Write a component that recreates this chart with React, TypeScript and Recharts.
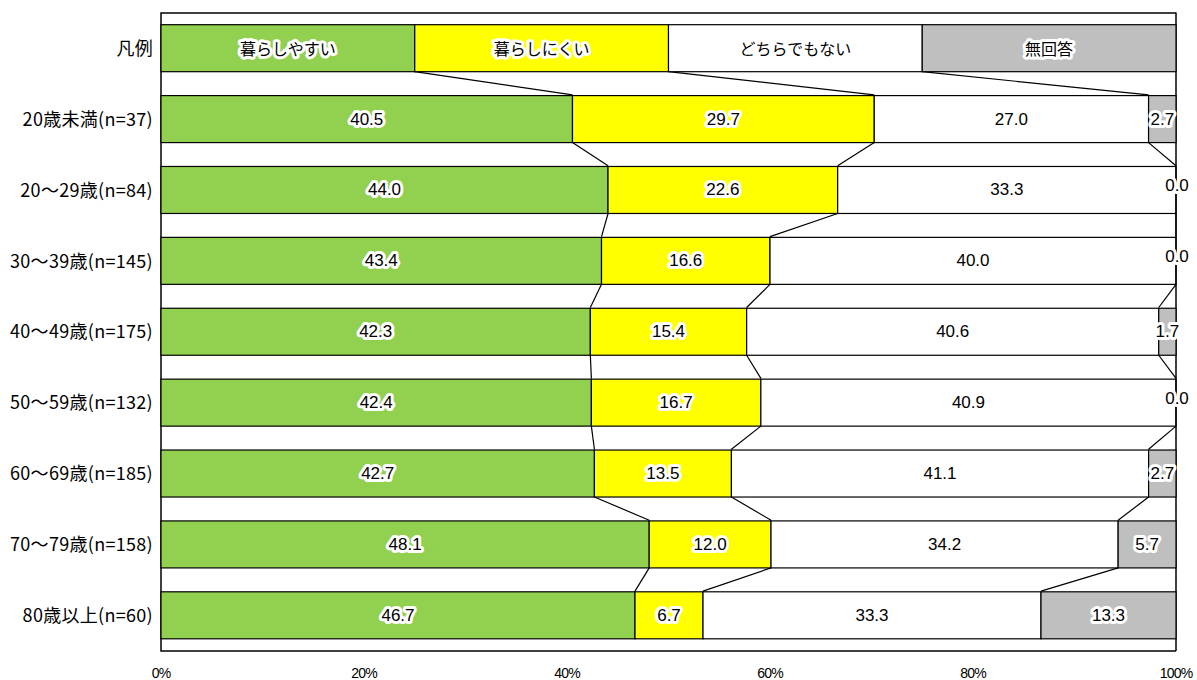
import { BarChart, Bar, XAxis, YAxis, ReferenceArea } from "recharts";

const CATEGORIES = [
  "凡例",
  "20歳未満(n=37)",
  "20～29歳(n=84)",
  "30～39歳(n=145)",
  "40～49歳(n=175)",
  "50～59歳(n=132)",
  "60～69歳(n=185)",
  "70～79歳(n=158)",
  "80歳以上(n=60)",
];

const SERIES_NAMES = ["暮らしやすい", "暮らしにくい", "どちらでもない", "無回答"];

const EASY = [25, 40.5, 44.0, 43.4, 42.3, 42.4, 42.7, 48.1, 46.7];
const HARD = [25, 29.7, 22.6, 16.6, 15.4, 16.7, 13.5, 12.0, 6.7];
const NEITHER = [25, 27.0, 33.3, 40.0, 40.6, 40.9, 41.1, 34.2, 33.3];
const NO_ANSWER = [25, 2.7, 0.0, 0.0, 1.7, 0.0, 2.7, 5.7, 13.3];

const X_TICKS = [0, 20, 40, 60, 80, 100];

const SERIES = [EASY, HARD, NEITHER, NO_ANSWER];
const COLORS = ["#92D050", "#FFFF00", "#FFFFFF", "#BFBFBF"];
const KEYS = ["easy", "hard", "neither", "noAnswer"];

const GAP = 0.165;
const JP_FONT = "'Noto Sans CJK JP', sans-serif";
const NUM_FONT = "'Liberation Sans', Arial, sans-serif";

const data = CATEGORIES.map((label, i) => ({
  label,
  easy: EASY[i],
  hard: HARD[i],
  neither: NEITHER[i],
  noAnswer: NO_ANSWER[i],
}));

// cumulative share (0..1) at the right end of series k for row i
function cumShare(i: number, k: number) {
  const total = SERIES.reduce((s, arr) => s + arr[i], 0);
  let c = 0;
  for (let j = 0; j <= k; j++) c += SERIES[j][i];
  return c / total;
}

function makeShape(k: number) {
  return (props: any) => {
    const { x, y, width, height, index, background } = props;
    const band = height / (1 - 2 * GAP);
    let connector = null;
    if (k < 3 && index < CATEGORIES.length - 1 && background) {
      const x2 = background.x + cumShare(index + 1, k) * background.width;
      connector = (
        <line x1={x + width} y1={y + height} x2={x2} y2={y + band} stroke="#000" strokeWidth={1.2} />
      );
    }
    const value = SERIES[k][index];
    const isLegend = index === 0;
    const text = isLegend ? SERIES_NAMES[k] : value.toFixed(1);
    const ty = y + height / 2 + (value === 0 ? -4 : 0);
    // right edge of the frame is drawn with the last series so the label halo can cover it
    let edge = null;
    if (k === 3 && background) {
      const rx = background.x + background.width;
      edge = (
        <line
          x1={rx}
          y1={y - band * GAP - 0.5}
          x2={rx}
          y2={y + height + band * GAP + 0.5}
          stroke="#000"
          strokeWidth={1.5}
        />
      );
    }
    return (
      <g>
        {edge}
        {width > 0 && (
          <rect x={x} y={y} width={width} height={height} fill={COLORS[k]} stroke="#000" strokeWidth={1.2} />
        )}
        {connector}
        <text
          x={x + width / 2 + (value === 0 ? 1 : 0)}
          y={ty}
          textAnchor="middle"
          dominantBaseline="central"
          fontFamily={isLegend ? JP_FONT : NUM_FONT}
          fontSize={isLegend ? 16 : 17}
          fill="#000"
          stroke="#fff"
          strokeWidth={6}
          strokeLinejoin="round"
          paintOrder="stroke"
        >
          {text}
        </text>
      </g>
    );
  };
}

export default function App() {
  return (
    <div style={{ position: "absolute", left: 0, top: 0, background: "#fff" }}>
      <BarChart
        width={1197}
        height={680}
        data={data}
        layout="vertical"
        stackOffset="expand"
        barCategoryGap={`${GAP * 100}%`}
        margin={{ top: 13, right: 21, bottom: 0, left: 0 }}
      >
        {/* top, bottom and left sides of the frame (right side comes from the bars) */}
        <ReferenceArea
          x1={0}
          x2={1}
          fill="none"
          stroke="#000"
          strokeWidth={1.5}
          ifOverflow="visible"
          strokeDasharray="1015 638 1660 0"
        />
        <XAxis
          type="number"
          domain={[0, 1]}
          ticks={X_TICKS.map((t) => t / 100)}
          tickFormatter={(v: number) => `${Math.round(v * 100)}%`}
          axisLine={false}
          tickLine={false}
          tickMargin={11}
          height={29}
          tick={{ fill: "#000", fontSize: 14, fontFamily: NUM_FONT, letterSpacing: -0.8 }}
        />
        <YAxis
          type="category"
          dataKey="label"
          width={161}
          axisLine={false}
          tickLine={false}
          interval={0}
          tick={{ fill: "#000", fontSize: 18, fontFamily: JP_FONT, letterSpacing: 0.3 }}
        />
        {KEYS.map((key, k) => (
          <Bar
            key={key}
            dataKey={key}
            stackId="a"
            fill={COLORS[k]}
            isAnimationActive={false}
            shape={makeShape(k)}
          />
        ))}
      </BarChart>
    </div>
  );
}
